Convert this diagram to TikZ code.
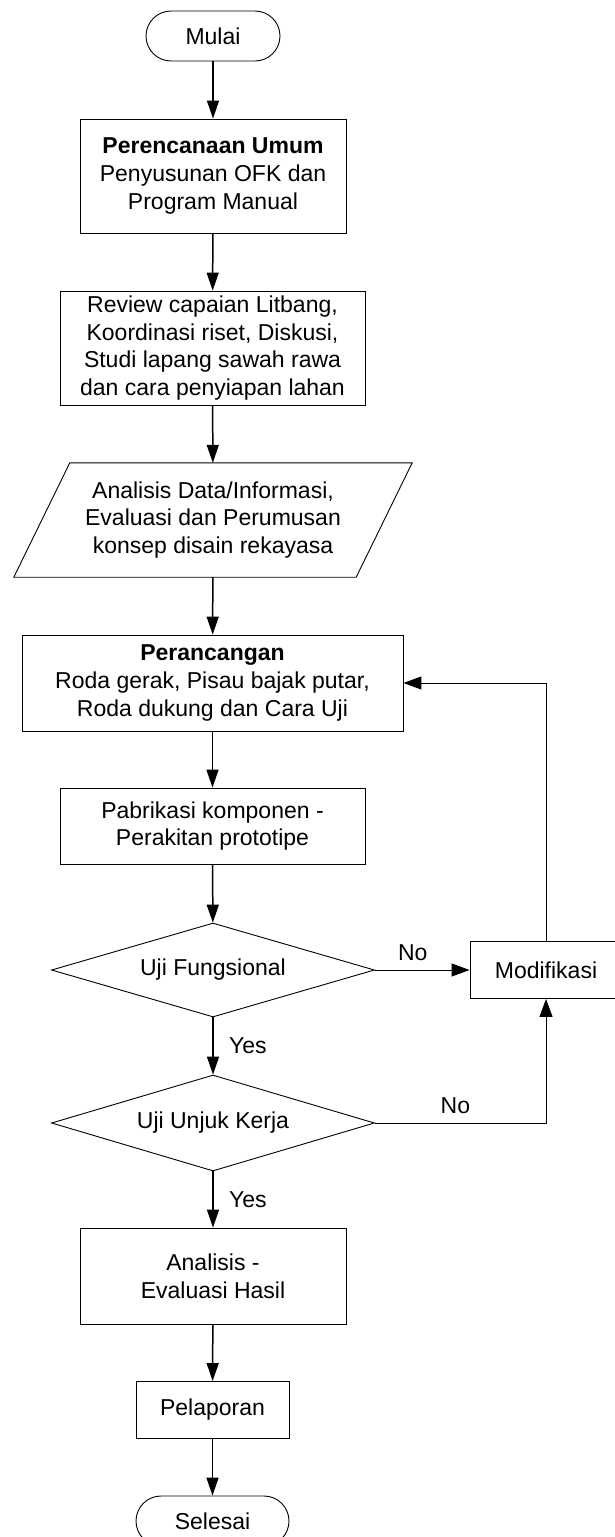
\documentclass[tikz,border=0pt]{standalone}
\usepackage{fontspec}
\setmainfont{Liberation Sans}
\usetikzlibrary{arrows.meta, shapes.geometric}

\begin{document}
\begin{tikzpicture}[
    x=1pt, y=-1pt,
    every node/.append style = {font=\fontsize{23}{27.6}\selectfont},
    proc/.style = {draw, line width=0.9pt, inner sep=0pt, align=center},
    term/.style = {proc, rounded corners=25pt},
    decision/.style = {draw, diamond, aspect=3.4, line width=0.9pt,
      inner sep=0pt},
    flow/.style = {line width=1.5pt, -{Triangle[length=18pt, width=12pt]}},
    back/.style = {line width=1pt, -{Triangle[length=18pt, width=13pt]}}
  ]
  \useasboundingbox (0,0) rectangle (614,1537);
  % main column
  \node[term, minimum width=134pt, minimum height=50pt] (start) at (213,36)
    {Mulai};
  \node[proc, minimum width=266pt, minimum height=114pt] (plan) at (213,176)
    {\textbf{Perencanaan Umum}\\Penyusunan OFK dan\\Program Manual};
  \node[proc, minimum width=305pt, minimum height=114pt] (review)
    at (212.5,348)
    {Review capaian Litbang,\\Koordinasi riset, Diskusi,\\
     Studi lapang sawah rawa\\dan cara penyiapan lahan};
  \node[inner sep=0pt, align=center, minimum width=342pt,
    minimum height=114pt] (analysis) at (213,520)
    {Analisis Data/Informasi,\\Evaluasi dan Perumusan\\
     konsep disain rekayasa};
  \draw[line width=0.9pt] ([xshift=28pt]analysis.north west)
    -- ([xshift=28pt]analysis.north east)
    -- ([xshift=-28pt]analysis.south east)
    -- ([xshift=-28pt]analysis.south west) -- cycle;
  \node[proc, minimum width=381pt, minimum height=96pt] (design)
    at (212.5,683)
    {\textbf{Perancangan}\\Roda gerak, Pisau bajak putar,\\
     Roda dukung dan Cara Uji};
  \node[proc, minimum width=305pt, minimum height=76pt] (fab) at (212.5,826)
    {Pabrikasi komponen -\\Perakitan prototipe};
  \node[decision, minimum width=323pt, minimum height=94pt] (test1)
    at (213,970) {Uji Fungsional};
  \node[proc, minimum width=152pt, minimum height=57pt] (mod) at (546,970)
    {Modifikasi};
  \node[decision, minimum width=323pt, minimum height=96pt] (test2)
    at (213,1123) {Uji Unjuk Kerja};
  \node[proc, minimum width=266pt, minimum height=96pt] (eval) at (213,1276)
    {Analisis -\\Evaluasi Hasil};
  \node[proc, minimum width=153pt, minimum height=57pt] (report)
    at (212.5,1410) {Pelaporan};
  \node[term, minimum width=153pt, minimum height=50pt] (stop)
    at (212.5,1521) {Selesai};
  % connectors
  \draw[flow] (start) -- (plan);
  \draw[flow] (plan) -- (review);
  \draw[flow] (review) -- (analysis);
  \draw[flow] (analysis) -- (design);
  \draw[flow] (design) -- (fab);
  \draw[flow] (fab) -- (test1);
  \draw[flow] (test1) -- node[right=12pt] {Yes} (test2);
  \draw[flow] (test2) -- node[right=12pt] {Yes} (eval);
  \draw[flow] (eval) -- (report);
  \draw[flow] (report) -- (stop);
  \draw[back] (test1) -- node[above=5pt, pos=0.4] {No} (mod);
  \draw[back] (mod) |- (design);
  \draw[back] (test2) -| node[above=5pt, pos=0.235] {No} (mod);
\end{tikzpicture}
\end{document}
